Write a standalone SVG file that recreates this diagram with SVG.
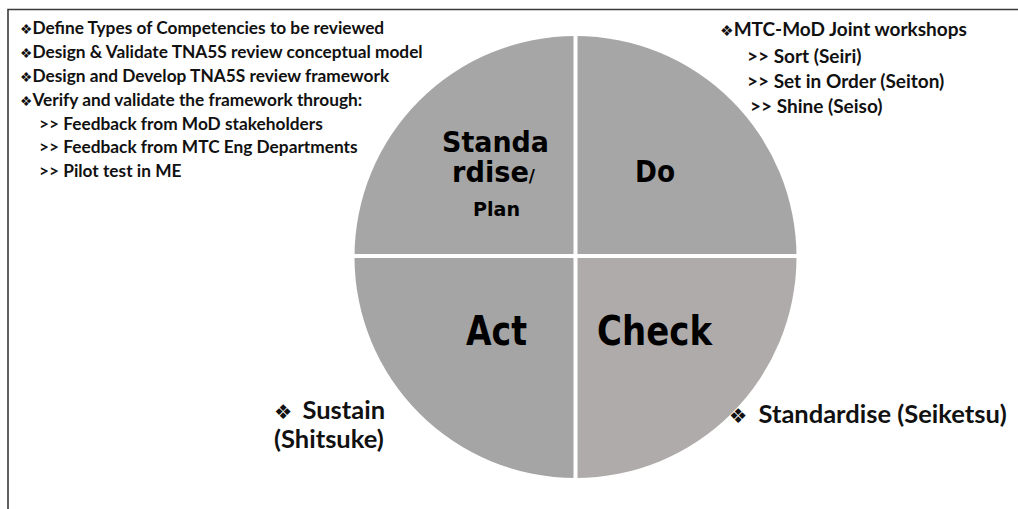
<svg xmlns="http://www.w3.org/2000/svg" width="1018" height="509" viewBox="0 0 1018 509">
  <style>
    .note { font-family: Lato, "Liberation Sans", sans-serif; font-weight: bold; font-size: 17.3px; fill: #111; }
    .note-r { font-family: Lato, "Liberation Sans", sans-serif; font-weight: bold; font-size: 19px; fill: #111; }
    .side { font-family: Lato, "Liberation Sans", sans-serif; font-weight: bold; font-size: 25.5px; fill: #111; }
    .bul { font-family: "DejaVu Sans", sans-serif; font-size: 0.8em; }
    .big { font-family: "DejaVu Sans", "Liberation Sans", sans-serif; font-weight: bold; fill: #000; text-anchor: middle; }
    .frame { stroke: #3a3a3a; stroke-width: 1.6; fill: none; }
    .gap { fill: #ffffff; }
  </style>

  <rect width="1018" height="509" fill="#ffffff"/>
  <!-- frame edges -->
  <path class="frame" d="M8 509 V9.5 H1018"/>

  <!-- PDCA wheel -->
  <g id="wheel">
    <g id="plan">
      <path d="M575.5 257 H354.5 A221 221 0 0 1 575.5 36 Z" fill="#a6a6a6"/>
      <text class="big" x="495.5" y="152" font-size="29" textLength="107" lengthAdjust="spacingAndGlyphs">Standa</text>
      <text class="big" x="493.5" y="182" font-size="29" textLength="83" lengthAdjust="spacingAndGlyphs">rdise<tspan font-size="18">/</tspan></text>
      <text class="big" x="496.5" y="216" font-size="19" textLength="47" lengthAdjust="spacingAndGlyphs">Plan</text>
    </g>
    <g id="do">
      <path d="M575.5 257 V36 A221 221 0 0 1 796.5 257 Z" fill="#a6a6a6"/>
      <text class="big" x="655" y="182" font-size="30" textLength="40" lengthAdjust="spacingAndGlyphs">Do</text>
    </g>
    <g id="act">
      <path d="M575.5 257 V478 A221 221 0 0 1 354.5 257 Z" fill="#a5a5a5"/>
      <text class="big" x="496.5" y="345" font-size="41" textLength="61" lengthAdjust="spacingAndGlyphs">Act</text>
    </g>
    <g id="check">
      <path d="M575.5 257 H796.5 A221 221 0 0 1 575.5 478 Z" fill="#afabaa"/>
      <text class="big" x="654.5" y="345" font-size="41" textLength="115" lengthAdjust="spacingAndGlyphs">Check</text>
    </g>
    <!-- white dividers between quarters -->
    <rect class="gap" x="573.5" y="30" width="4" height="455"/>
    <rect class="gap" x="348" y="254" width="455" height="4"/>
  </g>

  <!-- plan notes -->
  <g id="plan-notes" class="note">
    <text x="20" y="34"><tspan class="bul">❖</tspan>Define Types of Competencies to be reviewed</text>
    <text x="20" y="58"><tspan class="bul">❖</tspan>Design &amp; Validate TNA5S review conceptual model</text>
    <text x="20" y="82"><tspan class="bul">❖</tspan>Design and Develop TNA5S review framework</text>
    <text x="20" y="106"><tspan class="bul">❖</tspan>Verify and validate the framework through:</text>
    <text x="39" y="130">&gt;&gt; Feedback from MoD stakeholders</text>
    <text x="39" y="153">&gt;&gt; Feedback from MTC Eng Departments</text>
    <text x="39" y="177">&gt;&gt; Pilot test in ME</text>
  </g>

  <!-- do notes -->
  <g id="do-notes" class="note-r">
    <text x="720" y="36"><tspan class="bul">❖</tspan>MTC-MoD Joint workshops</text>
    <text x="747" y="63">&gt;&gt; Sort (Seiri)</text>
    <text x="747" y="88">&gt;&gt; Set in Order (Seiton)</text>
    <text x="750" y="113">&gt;&gt; Shine (Seiso)</text>
  </g>

  <!-- act notes -->
  <g id="act-notes" class="side">
    <text x="274" y="419"><tspan class="bul">❖</tspan><tspan dx="4"> Sustain</tspan></text>
    <text x="274" y="448">(Shitsuke)</text>
  </g>

  <!-- check notes -->
  <g id="check-notes" class="side">
    <text x="729" y="423"><tspan class="bul">❖</tspan><tspan dx="5"> Standardise (Seiketsu)</tspan></text>
  </g>
</svg>
